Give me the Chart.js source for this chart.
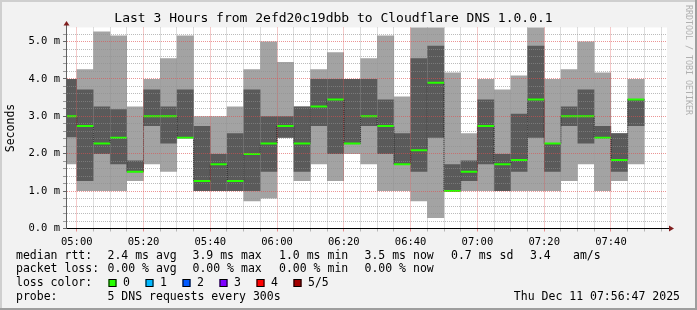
<!DOCTYPE html>
<html><head><meta charset="utf-8">
<script src="https://cdn.jsdelivr.net/npm/chart.js@4/dist/chart.umd.min.js"></script>
<style>html,body{margin:0;padding:0;background:#f2f2f2;}canvas{display:block;}</style>
</head><body>
<canvas id="c" width="697" height="310"></canvas>
<script>
// ---- data ----
const slotStart = ['04:55','05:00','05:05','05:10','05:15','05:20','05:25','05:30','05:35','05:40','05:45','05:50','05:55',
  '06:00','06:05','06:10','06:15','06:20','06:25','06:30','06:35','06:40','06:45','06:50','06:55',
  '07:00','07:05','07:10','07:15','07:20','07:25','07:30','07:35','07:40','07:45'];
const pingMin    = [1.72,1.0,1.0,1.0,1.27,1.72,1.52,2.43,1.0,1.0,1.0,0.73,0.8,2.43,1.27,1.72,1.27,1.99,1.72,1.0,1.0,0.73,0.28,1.0,1.0,1.0,1.0,1.0,1.0,1.0,1.27,1.72,1.0,1.27,1.72];
const ping2      = [2.44,1.27,1.99,1.72,1.52,2.74,2.27,2.43,1.0,1.0,1.0,1.0,1.52,2.43,1.52,2.74,1.99,2.27,2.74,1.99,1.72,1.52,2.43,1.0,1.27,1.72,1.0,1.52,2.43,1.52,2.74,2.27,2.43,1.52,2.74];
const pingMedian = [3.0,2.74,2.27,2.43,1.52,3.0,3.0,2.43,1.27,1.72,1.27,1.99,2.27,2.74,2.27,3.26,3.45,2.27,3.0,2.74,1.72,2.09,3.9,1.0,1.52,2.74,1.72,1.83,3.45,2.27,3.0,3.0,2.43,1.83,3.45];
const ping4      = [4.0,3.72,3.26,3.19,1.82,3.72,3.26,3.72,2.74,1.99,2.55,3.72,3.0,3.0,3.26,4.0,4.0,4.0,4.0,3.45,2.55,4.55,4.89,1.72,1.82,3.45,1.99,3.07,4.89,2.27,3.26,3.72,2.74,2.55,3.45];
const pingMax    = [4.0,4.26,5.27,5.16,3.26,4.0,4.55,5.16,3.0,3.0,3.26,4.26,5.0,4.45,3.26,4.26,4.71,4.0,4.55,5.16,3.53,5.5,5.5,4.17,2.55,4.0,3.72,4.09,5.5,4.0,4.26,5.0,4.17,2.55,4.0];
const stepMinutes = 5;
const labelEvery = 20;
const axisStart = '04:56:47';
const axisEnd   = '07:56:47';
const yMax = 5.375;
const titleText = 'Last 3 Hours from 2efd20c19dbb to Cloudflare DNS 1.0.0.1';
const yTitle = 'Seconds';
const medianLabel = 'median rtt:';
const medianStats = ['2.4 ms avg','3.9 ms max','1.0 ms min','3.5 ms now','0.7 ms sd','3.4','am/s'];
const lossLabel = 'packet loss:';
const lossStats = ['0.00 % avg','0.00 % max','0.00 % min','0.00 % now'];
const lossColorLabel = 'loss color:';
const lossNames = ['0','1','2','3','4','5/5'];
const lossColors = ['#26ff00','#00b8ff','#0059ff','#7e00ff','#ff0000','#a10000'];
const probeLabel = 'probe:';
const probeText = '5 DNS requests every 300s';
const dateText = 'Thu Dec 11 07:56:47 2025';
const watermark = 'RRDTOOL / TOBI OETIKER';

// ---- helpers ----
const MONO = 'DejaVu Sans Mono';
function toMin(s){ const p = s.split(':').map(Number); return (p[0]-5)*60 + p[1] + (p[2]||0)/60; }
function fmtMin(m){ const t = 300 + m; const h = Math.floor(t/60), mm = Math.round(t - h*60); return String(h).padStart(2,'0')+':'+String(mm).padStart(2,'0'); }
const isMajorY = v => Math.abs(v - Math.round(v)) < 1e-6;
const isMajorX = v => Math.abs(v/labelEvery - Math.round(v/labelEvery)) < 1e-6;
const MAJOR = 'rgba(222,79,79,0.6)';
const MINOR = 'rgba(143,143,143,0.6)';

const starts = slotStart.map(toMin);
const outerData = starts.map((s,i)=>({x:s+stepMinutes/2, y:[pingMin[i], pingMax[i]]}));
const innerData = starts.map((s,i)=>({x:s+stepMinutes/2, y:[ping2[i], ping4[i]]}));
const greenData = [];
starts.forEach((s,i)=>{ greenData.push({x:s,y:pingMedian[i]},{x:s+stepMinutes,y:pingMedian[i]},{x:s+stepMinutes,y:null}); });
const stepData = starts.map((s,i)=>({x:s,y:pingMedian[i]}));
stepData.push({x:starts[starts.length-1]+stepMinutes, y:pingMedian[pingMedian.length-1]});

const decor = {
  id:'decor',
  beforeDraw(chart){
    const {ctx, chartArea:a} = chart;
    ctx.save();
    ctx.fillStyle = '#f2f2f2'; ctx.fillRect(0,0,chart.width,chart.height);
    ctx.fillStyle = '#ffffff'; ctx.fillRect(a.left,a.top,a.right-a.left,a.bottom-a.top);
    ctx.restore();
  },
  afterDraw(chart){
    const {ctx, chartArea:a} = chart;
    ctx.save();
    const ax = Math.round(a.left)+0.5, ay = Math.round(a.bottom)-0.5;
    ctx.strokeStyle = '#606060'; ctx.lineWidth = 1;
    ctx.beginPath(); ctx.moveTo(ax, a.top); ctx.lineTo(ax, a.top-3); ctx.stroke();
    ctx.strokeStyle = '#000';
    ctx.beginPath(); ctx.moveTo(a.right, ay); ctx.lineTo(a.right+3, ay); ctx.stroke();
    ctx.fillStyle = '#801f1f';
    ctx.beginPath(); ctx.moveTo(ax-3, a.top-2); ctx.lineTo(ax+3, a.top-2); ctx.lineTo(ax, a.top-6.5); ctx.closePath(); ctx.fill();
    ctx.beginPath(); ctx.moveTo(a.right+2, ay-3); ctx.lineTo(a.right+2, ay+3); ctx.lineTo(a.right+7, ay); ctx.closePath(); ctx.fill();
    ctx.fillStyle = '#000';
    ctx.font = '11.5px "'+MONO+'"';
    ctx.textBaseline = 'alphabetic'; ctx.textAlign = 'left';
    const col = [107.5,192.5,279,364.5,451,530,573];
    ctx.fillText(medianLabel, 16, 258.5);
    medianStats.forEach((t,i)=>ctx.fillText(t, col[i], 258.5));
    ctx.fillText(lossLabel, 16, 272);
    lossStats.forEach((t,i)=>ctx.fillText(t, col[i], 272));
    ctx.fillText(lossColorLabel, 16, 286);
    lossNames.forEach((t,i)=>{
      const bx = 108.5 + 37*i;
      ctx.fillStyle = lossColors[i]; ctx.fillRect(bx, 279, 8, 8);
      ctx.strokeStyle = '#000'; ctx.lineWidth = 1; ctx.strokeRect(bx+0.5, 279.5, 7, 7);
      ctx.fillStyle = '#000'; ctx.fillText(t, 123 + 37*i, 286);
    });
    ctx.fillText(probeLabel, 16, 299.5);
    ctx.fillText(probeText, 107.5, 299.5);
    ctx.textAlign = 'right'; ctx.fillText(dateText, 680, 299.5);
    ctx.save();
    ctx.translate(687.7, 5); ctx.rotate(Math.PI/2);
    ctx.font = '8.3px "'+MONO+'"'; ctx.fillStyle = '#b0b0b0';
    ctx.textAlign = 'left'; ctx.textBaseline = 'middle';
    ctx.fillText(watermark, 0, 0);
    ctx.restore();
    ctx.fillStyle = '#cfcfcf'; ctx.fillRect(0,0,chart.width,2); ctx.fillRect(0,0,2,chart.height);
    ctx.fillStyle = '#9e9e9e'; ctx.fillRect(0,chart.height-2,chart.width,2); ctx.fillRect(chart.width-2,0,2,chart.height);
    ctx.restore();
  }
};

new Chart(document.getElementById('c'), {
  type:'bar',
  data:{ datasets:[
    {type:'line', label:'median', data:greenData, borderColor:'#26ff00', borderWidth:2, pointRadius:0, spanGaps:false, clip:0, order:1},
    {type:'line', label:'step', data:stepData, borderColor:'#151515', borderWidth:1, borderDash:[1,1], stepped:'before', pointRadius:0, clip:0, order:2},
    {label:'inner', data:innerData, backgroundColor:'#5a5a5a', borderWidth:0, grouped:false, barPercentage:1.02, categoryPercentage:1, clip:0, order:3},
    {label:'outer', data:outerData, backgroundColor:'#a3a3a3', borderWidth:0, grouped:false, barPercentage:1.02, categoryPercentage:1, clip:0, order:4}
  ]},
  options:{
    responsive:false, devicePixelRatio:1, animation:false, events:[],
    layout:{ padding:{left:0, right:30, top:0, bottom:0} },
    plugins:{
      legend:{display:false}, tooltip:{enabled:false},
      title:{display:true, text:titleText, color:'#000', font:{family:MONO, size:13, weight:'normal'}, padding:{top:11.2, bottom:0.7}}
    },
    scales:{
      x:{
        type:'linear', min:toMin(axisStart), max:toMin(axisEnd), offset:false,
        afterFit:s=>{ s.height = 81.5; },
        afterBuildTicks:s=>{
          const t = [];
          for (let v = Math.ceil(s.min/stepMinutes)*stepMinutes; v <= s.max; v += stepMinutes) t.push({value:v});
          s.ticks = t;
        },
        ticks:{ stepSize:stepMinutes, autoSkip:false, maxRotation:0, minRotation:0, padding:4, color:'#000',
          font:{family:MONO, size:10.5}, callback:v=> isMajorX(v) ? fmtMin(v) : '' },
        grid:{ z:1, offset:false, tickLength:3, color:c=> (c.tick && isMajorX(c.tick.value)) ? MAJOR : MINOR,
          tickColor:c=> (c.tick && isMajorX(c.tick.value)) ? MAJOR : MINOR },
        border:{ z:2, color:'#000', width:1, dash:[1,1] }
      },
      y:{
        type:'linear', min:0, max:yMax,
        afterFit:s=>{ s.width = 66; },
        ticks:{ stepSize:0.2, includeBounds:false, autoSkip:false, padding:3, color:'#000',
          font:{family:MONO, size:10.5}, callback:v=> isMajorY(v) ? v.toFixed(1)+' m' : '' },
        grid:{ z:1, tickLength:3, color:c=> (c.tick && isMajorY(c.tick.value)) ? MAJOR : MINOR,
          tickColor:c=> (c.tick && isMajorY(c.tick.value)) ? '#666' : '#999' },
        border:{ z:2, color:'#606060', width:1, dash:[1,1] },
        title:{ display:true, text:yTitle, color:'#000', font:{family:MONO, size:11.5}, padding:{top:3.9, bottom:0} }
      }
    }
  },
  plugins:[decor]
});
</script>
</body></html>
